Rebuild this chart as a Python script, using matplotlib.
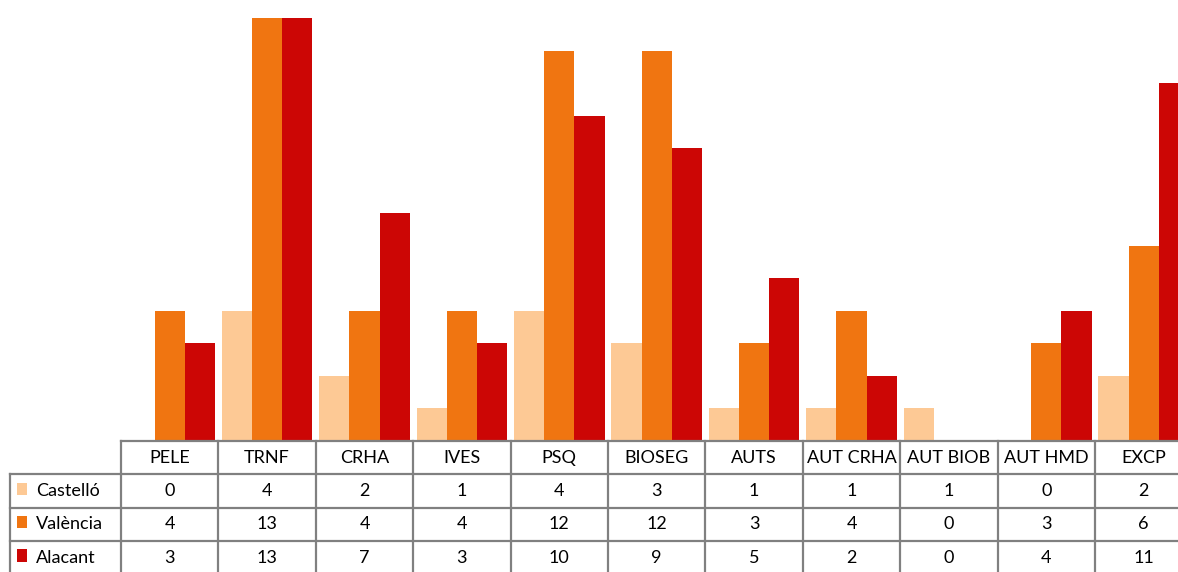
import numpy as np
import matplotlib.pyplot as plt
from matplotlib.patches import Rectangle

# counts per procedure type and province
categories = ['PELE', 'TRNF', 'CRHA', 'IVES', 'PSQ', 'BIOSEG', 'AUTS',
              'AUT CRHA', 'AUT BIOB', 'AUT HMD', 'EXCP']
castello = [0, 4, 2, 1, 4, 3, 1, 1, 1, 0, 2]
valencia = [4, 13, 4, 4, 12, 12, 3, 4, 0, 3, 6]
alacant = [3, 13, 7, 3, 10, 9, 5, 2, 0, 4, 11]
series_names = ['Castelló', 'València', 'Alacant']

colors = ['#FDC995', '#F07511', '#CC0605']
grid_col = '#808080'
font = ['Lato', 'DejaVu Sans']
fs = 13

W, H = 1178, 572
fig = plt.figure(figsize=(W / 100, H / 100), dpi=100)

col_w = 97.4          # pixels per category column
x0 = 121              # left edge of first data column
base = 441            # bar baseline / top of table
row_h = 33.3
xmin = -0.5
xmax = -0.5 + (W - x0) / col_w
label_w = (x0 - 10) / col_w

## bars
ax = fig.add_axes([x0 / W, 1 - base / H, (W - x0) / W, base / H])
x = np.arange(len(categories))
bw = 0.31
series = [castello, valencia, alacant]
for i, (vals, c) in enumerate(zip(series, colors)):
    ax.bar(x + (i - 1) * bw, vals, bw, color=c, linewidth=0)
ax.set_xlim(xmin, xmax)
ax.set_ylim(0, 13 * base / (base - 18))
ax.axis('off')

## data table under the bars
axt = fig.add_axes([10 / W, 1 - (base + 4 * row_h) / H, (W - 10) / W, 4 * row_h / H])
axt.set_xlim(xmin - label_w, xmax)
axt.set_ylim(4, 0)
axt.axis('off')

lkw = dict(color=grid_col, lw=1.6, clip_on=False, solid_capstyle='projecting')
axt.plot([xmin, xmax], [0, 0], **lkw)
for r in (1, 2, 3):
    axt.plot([xmin - label_w, xmax], [r, r], **lkw)
for k in range(len(categories)):
    axt.plot([k - 0.5, k - 0.5], [0, 4], **lkw)
axt.plot([xmin - label_w, xmin - label_w], [1, 4], **lkw)

for k, name in enumerate(categories):
    axt.text(k, 0.5, name, ha='center', va='center', fontsize=fs, family=font)

sq_w = 10 / col_w
for r, (name, vals, c) in enumerate(zip(series_names, series, colors), start=1):
    axt.add_patch(Rectangle((xmin - label_w + 7 / col_w, r + 0.25), sq_w, 0.37,
                            color=c, linewidth=0))
    axt.text(xmin - label_w + 26 / col_w, r + 0.5, name, ha='left', va='center',
             fontsize=fs, family=font)
    for k, v in enumerate(vals):
        axt.text(k, r + 0.5, str(v), ha='center', va='center', fontsize=fs, family=font)

plt.savefig('out.png', dpi=100)
plt.close()
